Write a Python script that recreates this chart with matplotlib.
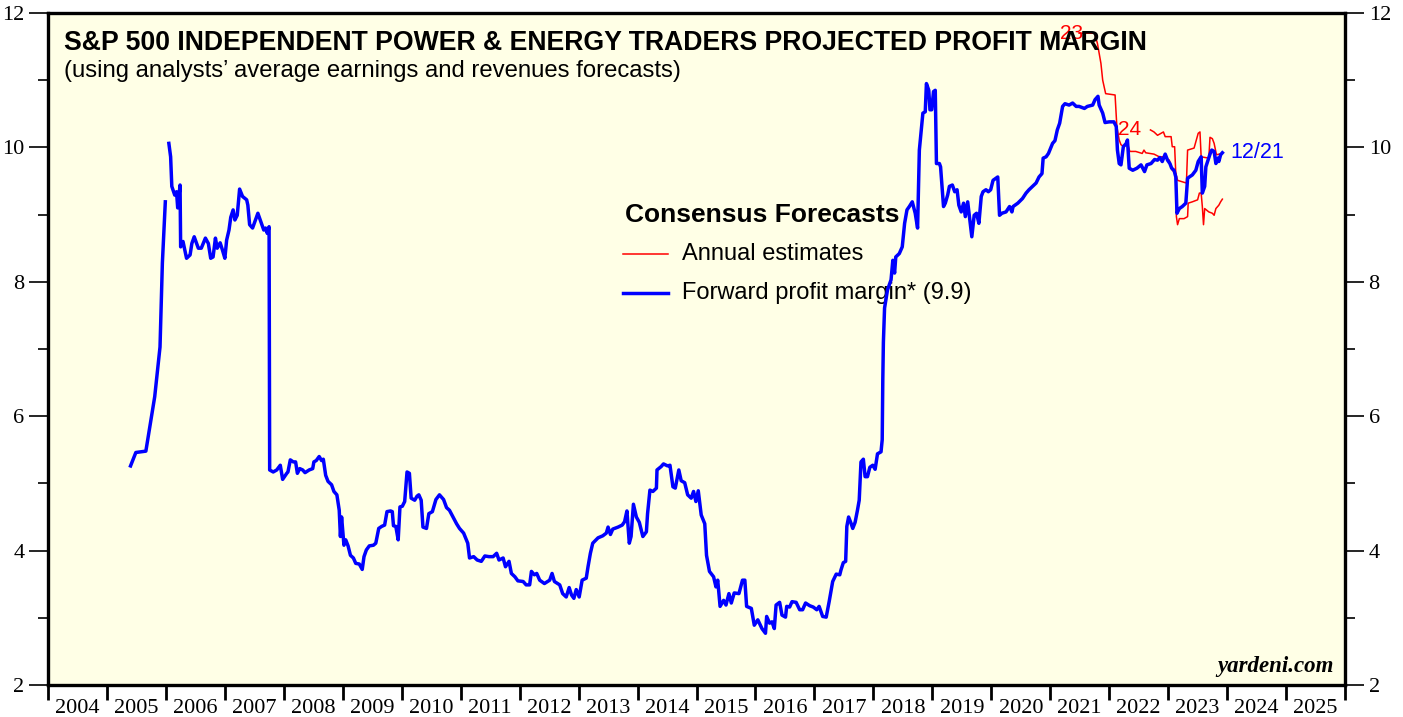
import numpy as np
import matplotlib
matplotlib.use("Agg")
import matplotlib.pyplot as plt

# Forward profit margin (decimal year, percent)
blue_years = [
    2005.40, 2005.49, 2005.66, 2005.81, 2005.90, 2005.94, 2005.99, np.nan,
    2006.05, 2006.08, 2006.10, 2006.15, 2006.18, 2006.20, 2006.24, 2006.25, 2006.29, 2006.35,
    2006.41, 2006.44, 2006.48, 2006.55, 2006.60, 2006.67, 2006.72, 2006.76, 2006.80, 2006.84,
    2006.87, 2006.92, 2006.96, 2007.00, 2007.03, 2007.07, 2007.10, 2007.14, 2007.17, 2007.21,
    2007.25, 2007.30, 2007.37, 2007.39, 2007.42, 2007.47, 2007.56, 2007.62, 2007.66, 2007.69,
    2007.72, 2007.75, 2007.76, 2007.82, 2007.88, 2007.94, 2007.98, 2008.05, 2008.07, 2008.11,
    2008.16, 2008.20, 2008.23, 2008.27, 2008.32, 2008.36, 2008.43, 2008.49, 2008.51, 2008.55,
    2008.60, 2008.64, 2008.67, 2008.71, 2008.75, 2008.81, 2008.85, 2008.90, 2008.94, 2008.96,
    2008.98, 2009.02, 2009.05, 2009.09, 2009.13, 2009.18, 2009.22, 2009.28, 2009.33, 2009.36,
    2009.40, 2009.45, 2009.52, 2009.56, 2009.61, 2009.66, 2009.71, 2009.75, 2009.81, 2009.84,
    2009.86, 2009.90, 2009.94, 2009.97, 2010.01, 2010.05, 2010.09, 2010.13, 2010.16, 2010.22,
    2010.26, 2010.29, 2010.33, 2010.36, 2010.42, 2010.46, 2010.52, 2010.58, 2010.64, 2010.71,
    2010.76, 2010.81, 2010.87, 2010.93, 2010.98, 2011.05, 2011.12, 2011.15, 2011.22, 2011.28,
    2011.35, 2011.41, 2011.48, 2011.55, 2011.61, 2011.65, 2011.72, 2011.76, 2011.82, 2011.86,
    2011.92, 2011.97, 2012.06, 2012.11, 2012.17, 2012.20, 2012.25, 2012.29, 2012.34, 2012.42,
    2012.51, 2012.55, 2012.59, 2012.68, 2012.73, 2012.79, 2012.84, 2012.88, 2012.92, 2012.96,
    2013.01, 2013.06, 2013.13, 2013.16, 2013.20, 2013.24, 2013.33, 2013.41, 2013.47, 2013.50,
    2013.54, 2013.58, 2013.67, 2013.74, 2013.78, 2013.82, 2013.86, 2013.89, 2013.93, 2013.98,
    2014.03, 2014.09, 2014.15, 2014.17, 2014.21, 2014.26, 2014.32, 2014.33, 2014.40, 2014.44,
    2014.51, 2014.55, 2014.60, 2014.64, 2014.70, 2014.74, 2014.80, 2014.85, 2014.91, 2014.95,
    2014.99, 2015.03, 2015.08, 2015.14, 2015.17, 2015.22, 2015.29, 2015.33, 2015.36, 2015.40,
    2015.46, 2015.50, 2015.55, 2015.59, 2015.64, 2015.72, 2015.78, 2015.82, 2015.85, 2015.93,
    2015.98, 2016.04, 2016.11, 2016.17, 2016.19, 2016.24, 2016.28, 2016.32, 2016.35, 2016.41,
    2016.45, 2016.51, 2016.53, 2016.58, 2016.62, 2016.69, 2016.75, 2016.80, 2016.85, 2016.92,
    2016.98, 2017.04, 2017.08, 2017.14, 2017.20, 2017.25, 2017.31, 2017.37, 2017.43, 2017.45,
    2017.49, 2017.53, 2017.55, 2017.58, 2017.62, 2017.65, 2017.69, 2017.73, 2017.76, 2017.79,
    2017.83, 2017.86, 2017.90, 2017.94, 2017.99, 2018.03, 2018.07, 2018.13, 2018.15, 2018.16,
    2018.17, 2018.19, 2018.24, 2018.30, 2018.33, 2018.36, 2018.38, 2018.44, 2018.49, 2018.53,
    2018.57, 2018.61, 2018.66, 2018.68, 2018.71, 2018.75, 2018.78, 2018.81, 2018.84, 2018.88,
    2018.90, 2018.94, 2018.96, 2018.99, 2019.02, 2019.05, 2019.07, 2019.12, 2019.14, 2019.19,
    2019.22, 2019.26, 2019.29, 2019.34, 2019.38, 2019.42, 2019.45, 2019.49, 2019.53, 2019.56,
    2019.60, 2019.64, 2019.67, 2019.71, 2019.75, 2019.79, 2019.83, 2019.86, 2019.91, 2019.95,
    2019.99, 2020.03, 2020.08, 2020.11, 2020.14, 2020.18, 2020.25, 2020.31, 2020.35, 2020.37,
    2020.45, 2020.53, 2020.59, 2020.64, 2020.70, 2020.76, 2020.81, 2020.86, 2020.88, 2020.93,
    2020.97, 2021.04, 2021.08, 2021.12, 2021.16, 2021.21, 2021.25, 2021.32, 2021.38, 2021.44,
    2021.49, 2021.58, 2021.63, 2021.72, 2021.76, 2021.81, 2021.83, 2021.89, 2021.93, 2022.00,
    2022.08, 2022.12, 2022.14, 2022.17, 2022.20, 2022.24, 2022.27, 2022.29, 2022.31, 2022.34,
    2022.40, 2022.47, 2022.54, 2022.60, 2022.64, 2022.71, 2022.77, 2022.82, 2022.86, 2022.90,
    2022.95, 2022.99, 2023.03, 2023.06, 2023.10, 2023.13, 2023.15, 2023.19, 2023.24, 2023.30,
    2023.33, 2023.36, 2023.41, 2023.47, 2023.51, 2023.56, 2023.58, 2023.62, 2023.64, 2023.67,
    2023.71, 2023.74, 2023.78, 2023.81, 2023.84, 2023.86, 2023.89, 2023.92,
]
blue_values = [
    5.26, 5.46, 5.48, 6.29, 7.03, 8.28, 9.19, np.nan,
    10.06, 9.86, 9.42, 9.29, 9.34, 9.10, 9.44, 8.52, 8.60, 8.35,
    8.40, 8.57, 8.67, 8.50, 8.50, 8.65, 8.57, 8.35, 8.37, 8.65,
    8.50, 8.58, 8.47, 8.35, 8.62, 8.77, 8.96, 9.07, 8.92, 8.99,
    9.38, 9.27, 9.22, 9.14, 8.85, 8.80, 9.02, 8.87, 8.77, 8.80,
    8.72, 8.82, 5.20, 5.17, 5.20, 5.27, 5.06, 5.15, 5.17, 5.35,
    5.32, 5.32, 5.15, 5.22, 5.20, 5.16, 5.20, 5.22, 5.32, 5.34,
    5.40, 5.34, 5.36, 5.12, 5.03, 4.98, 4.88, 4.83, 4.60, 4.21,
    4.50, 4.08, 4.16, 4.07, 3.93, 3.89, 3.81, 3.80, 3.72, 3.91,
    4.01, 4.07, 4.08, 4.11, 4.33, 4.36, 4.38, 4.58, 4.59, 4.58,
    4.37, 4.36, 4.16, 4.65, 4.66, 4.73, 5.17, 5.15, 4.78, 4.75,
    4.81, 4.83, 4.75, 4.35, 4.33, 4.55, 4.58, 4.76, 4.83, 4.76,
    4.64, 4.60, 4.50, 4.40, 4.33, 4.26, 4.11, 3.89, 3.91, 3.86,
    3.84, 3.92, 3.91, 3.91, 3.96, 3.86, 3.89, 3.76, 3.84, 3.66,
    3.61, 3.55, 3.54, 3.49, 3.49, 3.69, 3.64, 3.66, 3.56, 3.51,
    3.56, 3.66, 3.54, 3.49, 3.36, 3.31, 3.45, 3.34, 3.29, 3.42,
    3.31, 3.56, 3.59, 3.76, 3.96, 4.11, 4.19, 4.22, 4.26, 4.35,
    4.24, 4.32, 4.35, 4.38, 4.43, 4.59, 4.11, 4.21, 4.69, 4.50,
    4.42, 4.21, 4.28, 4.55, 4.90, 4.88, 4.93, 5.20, 5.25, 5.29,
    5.26, 5.27, 4.95, 4.93, 5.20, 5.04, 5.01, 4.83, 4.78, 4.88,
    4.73, 4.89, 4.53, 4.40, 3.93, 3.69, 3.61, 3.46, 3.56, 3.17,
    3.26, 3.19, 3.36, 3.22, 3.37, 3.36, 3.56, 3.56, 3.17, 3.14,
    2.89, 2.97, 2.84, 2.77, 3.02, 2.92, 2.94, 2.84, 3.19, 3.23,
    3.04, 3.01, 3.17, 3.16, 3.24, 3.23, 3.12, 3.12, 3.22, 3.18,
    3.16, 3.12, 3.17, 3.02, 3.01, 3.24, 3.54, 3.65, 3.64, 3.71,
    3.82, 3.84, 4.36, 4.50, 4.41, 4.33, 4.42, 4.60, 4.75, 5.32,
    5.36, 5.10, 5.10, 5.24, 5.27, 5.21, 5.44, 5.47, 5.65, 6.54,
    7.10, 7.61, 7.88, 8.03, 8.32, 8.13, 8.37, 8.42, 8.52, 8.87,
    9.07, 9.12, 9.19, 9.12, 9.02, 8.80, 9.96, 10.23, 10.51, 10.53,
    10.95, 10.85, 10.56, 10.56, 10.83, 10.85, 9.76, 9.76, 9.71, 9.12,
    9.17, 9.29, 9.42, 9.44, 9.34, 9.37, 9.14, 9.04, 9.17, 8.97,
    9.19, 8.89, 8.67, 8.99, 9.02, 8.87, 9.27, 9.34, 9.37, 9.34,
    9.37, 9.51, 9.54, 9.56, 8.99, 9.02, 9.04, 9.12, 9.04, 9.12,
    9.17, 9.24, 9.32, 9.37, 9.42, 9.47, 9.56, 9.61, 9.84, 9.86,
    9.91, 10.06, 10.10, 10.26, 10.36, 10.61, 10.65, 10.63, 10.66, 10.61,
    10.61, 10.58, 10.61, 10.63, 10.71, 10.76, 10.63, 10.51, 10.37, 10.38,
    10.38, 10.31, 9.96, 9.76, 9.74, 10.01, 10.04, 10.06, 10.11, 9.69,
    9.66, 9.69, 9.74, 9.64, 9.74, 9.76, 9.82, 9.81, 9.85, 9.79,
    9.90, 9.81, 9.76, 9.69, 9.66, 9.56, 9.02, 9.09, 9.12, 9.17,
    9.54, 9.56, 9.59, 9.66, 9.79, 9.86, 9.32, 9.42, 9.71, 9.79,
    9.90, 9.96, 9.94, 9.76, 9.84, 9.79, 9.89, 9.92,
]

# Annual estimates: 2023 and 2024
red23_years = [
    2021.49, 2021.75, 2021.80, 2021.86, 2021.89, 2021.94, 2022.10, 2022.13, 2022.17, 2022.20,
    2022.25, 2022.31, 2022.35, 2022.45, 2022.56, 2022.59, 2022.62, 2022.76, 2022.85, 2022.93,
    2023.02, 2023.07, 2023.13, 2023.14, 2023.16, 2023.19, 2023.27, 2023.33, 2023.34, 2023.41,
    2023.50, 2023.53, 2023.56, 2023.58, 2023.60, 2023.62, 2023.69, 2023.75, 2023.78, 2023.81,
    2023.86, 2023.89, 2023.92,
]
red23_values = [
    11.70, 11.70, 11.55, 11.25, 11.00, 10.80, 10.78, 10.31, 10.11, 10.04,
    10.01, 10.06, 9.94, 9.94, 9.91, 9.96, 9.92, 9.90, 9.86, 9.86,
    9.81, 9.66, 9.61, 8.97, 8.85, 8.94, 8.94, 8.97, 9.17, 9.19,
    9.22, 9.32, 9.32, 9.12, 8.85, 9.09, 9.04, 9.02, 8.99, 9.09,
    9.14, 9.19, 9.23,
]
red24_years = [
    2022.70, 2022.76, 2022.82, 2022.92, 2022.95, 2023.05, 2023.07, 2023.11, 2023.13, 2023.16,
    2023.27, 2023.31, 2023.33, 2023.44, 2023.51, 2023.54, 2023.56, 2023.69, 2023.71, 2023.75,
    2023.78, 2023.82, 2023.91,
]
red24_values = [
    10.26, 10.23, 10.18, 10.23, 10.16, 10.16, 10.01, 10.01, 9.61, 9.51,
    9.48, 9.47, 9.96, 9.99, 10.21, 10.23, 9.86, 9.84, 10.15, 10.13,
    10.06, 9.89, 9.91,
]

years = list(range(2004, 2026))

W, H = 1403, 717
fig = plt.figure(figsize=(W / 100, H / 100), dpi=100)
ax = fig.add_axes([48 / W, 1 - 685 / H, (1345 - 48) / W, (685 - 13) / H])
ax.set_facecolor('#FFFFE6')

ax.plot(red23_years, red23_values, color='red', lw=1.1, zorder=3)
ax.plot(red24_years, red24_values, color='red', lw=1.1, zorder=3)
ax.plot(blue_years, blue_values, color='blue', lw=2.5, zorder=4)

ax.text(2021.36, 11.70, '23', color='red', fontsize=15, family='Liberation Sans',
        ha='center', va='center', zorder=2)
ax.text(2022.34, 10.26, '24', color='red', fontsize=15, family='Liberation Sans',
        ha='center', va='center', zorder=2)
ax.text(2024.05, 9.92, '12/21', color='blue', fontsize=15.5, family='Liberation Sans',
        ha='left', va='center')

ax.set_xlim(2004, 2026)
ax.set_ylim(2, 12)

# x axis: ticks at year boundaries, labels centred in between
ax.set_xticks(np.arange(2004, 2027))
ax.set_xticklabels([])
ax.set_xticks([y + 0.5 for y in years], minor=True)
ax.set_xticklabels([str(y) for y in years], minor=True,
                   family='Liberation Serif', fontsize=16)
ax.tick_params(axis='x', which='major', direction='out', length=11, width=2)
ax.tick_params(axis='x', which='minor', length=0, pad=10)

ax.set_yticks(np.arange(2, 13, 2))
ax.set_yticks(np.arange(3, 12, 2), minor=True)
ax.set_yticklabels([str(v) for v in range(2, 13, 2)], family='Liberation Serif', fontsize=16)
ax.tick_params(axis='y', which='both', left=True, right=True, labelleft=True, labelright=True,
               direction='out')
ax.tick_params(axis='y', which='major', length=14, width=1.2, pad=3)
ax.tick_params(axis='y', which='minor', length=7, width=1.2)
for t in ax.yaxis.get_major_ticks():
    t.label2.set_family('Liberation Serif')
    t.label2.set_fontsize(16)

for s in ax.spines.values():
    s.set_linewidth(2.4)

# Titles
ax.text(0.012, 0.975, 'S&P 500 INDEPENDENT POWER & ENERGY TRADERS PROJECTED PROFIT MARGIN',
        transform=ax.transAxes, fontsize=19.2, fontweight='bold', family='Liberation Sans',
        ha='left', va='top', zorder=5)
ax.text(0.012, 0.93, '(using analysts\u2019 average earnings and revenues forecasts)',
        transform=ax.transAxes, fontsize=17.2, family='Liberation Sans',
        ha='left', va='top', zorder=5)

# Legend block
ax.text(2013.78, 9.0, 'Consensus Forecasts', fontsize=19, fontweight='bold',
        family='Liberation Sans', ha='left', va='center', zorder=2)
ax.plot([2013.75, 2014.51], [8.41, 8.41], color='red', lw=1.1, zorder=2)
ax.text(2014.75, 8.41, 'Annual estimates', fontsize=17,
        family='Liberation Sans', ha='left', va='center', zorder=2)
ax.plot([2013.75, 2014.51], [7.83, 7.83], color='blue', lw=2.5, zorder=2)
ax.text(2014.75, 7.83, 'Forward profit margin* (9.9)', fontsize=17,
        family='Liberation Sans', ha='left', va='center', zorder=2)

ax.text(0.991, 0.012, 'yardeni.com', transform=ax.transAxes, fontsize=16.5,
        fontweight='bold', style='italic', family='Liberation Serif',
        ha='right', va='bottom')

fig.savefig('out.png', dpi=100, facecolor='white')
